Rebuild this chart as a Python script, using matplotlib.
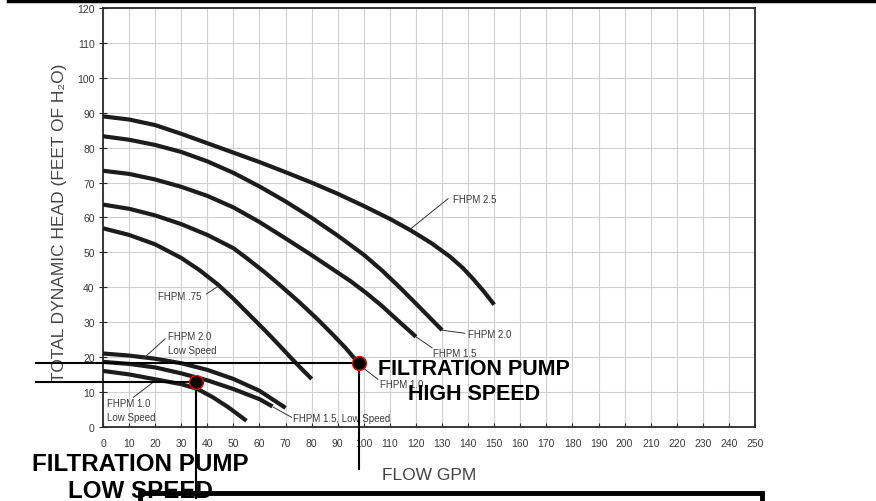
"""
Pump performance curves: total dynamic head vs flow, with the two
filtration-pump operating points marked.
"""

import matplotlib.pyplot as plt
from matplotlib.lines import Line2D
from matplotlib.patches import Rectangle

plt.rcParams["font.family"] = ["Liberation Sans", "DejaVu Sans"]

GREY_TXT = "#3a3a3a"
CURVE = "#1c1c1c"

# Curves (flow GPM, head ft)
HP250_X = [0, 10, 20, 30, 40, 50, 60, 70, 80, 90, 100, 110, 118, 126, 133, 138, 142, 146, 150]
HP250_Y = [89, 88.1, 86.5, 84.0, 81.3, 78.6, 75.9, 73.0, 70.0, 66.8, 63.3, 59.6, 56.3, 52.6, 48.8, 45.5, 42.3, 38.8, 35]

HP200_X = [0, 10, 20, 30, 40, 50, 60, 70, 80, 90, 100, 107, 114, 120, 125, 130]
HP200_Y = [83.3, 82.3, 80.8, 78.8, 76.1, 72.8, 68.9, 64.6, 59.9, 54.8, 49.3, 44.8, 39.8, 35.3, 31.5, 27.7]

HP150_X = [0, 10, 20, 30, 40, 50, 60, 70, 80, 88, 95, 101, 107, 113, 120]
HP150_Y = [73.4, 72.5, 70.9, 68.8, 66.2, 62.9, 58.7, 54.0, 49.2, 45.2, 41.7, 38.3, 34.6, 30.5, 25.8]

HP100_X = [0, 10, 20, 30, 40, 50, 55, 62, 68, 75, 82, 88, 93, 98]
HP100_Y = [63.7, 62.5, 60.6, 58.1, 55.0, 51.2, 48.4, 44.3, 40.5, 35.9, 31.0, 26.5, 22.6, 18.2]

HP075_X = [0, 10, 20, 30, 37, 44, 50, 56, 62, 67, 72, 76, 80]
HP075_Y = [56.9, 55.0, 52.3, 48.4, 44.9, 40.8, 36.7, 32.2, 27.7, 23.8, 19.8, 16.7, 13.7]

LOW200_X = [0, 10, 20, 30, 40, 50, 60, 70]
LOW200_Y = [21, 20.4, 19.5, 18.2, 16.3, 13.7, 10.3, 5.4]

LOW150_X = [0, 10, 20, 30, 40, 50, 60, 65]
LOW150_Y = [18.6, 18, 17, 15.3, 13.3, 10.8, 7.9, 5.8]

LOW100_X = [0, 10, 20, 30, 36, 42, 48, 55]
LOW100_Y = [16, 15, 13.6, 12.2, 10.9, 8.5, 5.6, 1.7]

# Operating points
HIGH_PT = (98.2, 18.2)
LOW_PT = (35.7, 12.7)

X_TICKS = list(range(0, 251, 10))
Y_TICKS = list(range(0, 121, 10))

# (text, text x, text y, leader start, leader end)
LABELS = [
    ("FHPM 2.5", 134.2, 65.4, (117.7, 56.6), (132.3, 65.4)),
    ("FHPM 2.0", 140.0, 26.6, (129.8, 27.7), (138.7, 26.8)),
    ("FHPM 1.5", 126.7, 21.1, (120.0, 25.8), (126.2, 22.6)),
    ("FHPM 1.0", 106.2, 12.3, (99.5, 17.0), (105.4, 13.6)),
    ("FHPM .75", 21.2, 37.4, (44.2, 40.3), (39.7, 38.1)),
    ("FHPM 2.0\nLow Speed", 25.0, 24.1, (15.5, 19.6), (23.8, 25.2)),
    ("FHPM 1.0\nLow Speed", 1.6, 4.8, (20.0, 13.2), (11.6, 8.4)),
    ("FHPM 1.5, Low Speed", 73.0, 2.4, (65.3, 5.6), (72.3, 2.7)),
]


def main():
    fig = plt.figure(figsize=(8.76, 5.02), dpi=100)
    ax = fig.add_axes([0.1176, 0.148, 0.7443, 0.8335])

    ax.set_xlim(0, 250)
    ax.set_ylim(0, 120)
    ax.set_xticks(X_TICKS)
    ax.set_yticks(Y_TICKS)
    ax.grid(True, color="#d0d0d0", lw=0.8, zorder=0)
    ax.set_axisbelow(True)
    for sp in ax.spines.values():
        sp.set_color("#2a2a2a")
        sp.set_linewidth(1.3)
    ax.tick_params(axis="x", direction="in", length=3, pad=8,
                   labelsize=7.5, labelcolor=GREY_TXT, color="#2a2a2a")
    ax.tick_params(axis="y", direction="inout", length=6, pad=3,
                   labelsize=7.5, labelcolor=GREY_TXT, color="#2a2a2a")

    curves = [(HP250_X, HP250_Y), (HP200_X, HP200_Y), (HP150_X, HP150_Y),
              (HP100_X, HP100_Y), (HP075_X, HP075_Y),
              (LOW200_X, LOW200_Y), (LOW150_X, LOW150_Y), (LOW100_X, LOW100_Y)]
    for xs, ys in curves:
        ax.plot(xs, ys, color=CURVE, lw=3, solid_capstyle="butt",
                solid_joinstyle="round", zorder=3)

    # Curve labels with thin leader lines
    for text, tx, ty, p0, p1 in LABELS:
        ax.plot([p0[0], p1[0]], [p0[1], p1[1]], color="#333333", lw=0.7, zorder=3)
        ax.text(tx, ty, text, fontsize=7, color=GREY_TXT, ha="left",
                va="center", linespacing=1.5, zorder=4)

    # Operating point guide lines (run outside the axes)
    for (px, py), bottom in [(HIGH_PT, -12.1), (LOW_PT, -20.5)]:
        ax.plot([-25.7, px], [py, py], color="black", lw=1.5,
                clip_on=False, zorder=5)
        ax.plot([px, px], [py, bottom], color="black", lw=1.5,
                clip_on=False, zorder=5)
        ax.plot(px, py, "o", ms=10, mfc="black", mec="red", mew=1.0,
                clip_on=False, zorder=6)

    ax.set_ylabel("TOTAL DYNAMIC HEAD (FEET OF H\u2082O)", fontsize=12.5,
                  color="#444444")
    ax.yaxis.set_label_coords(-0.055, 0.49)
    ax.set_xlabel("FLOW GPM", fontsize=12.5, color="#444444")
    ax.xaxis.set_label_coords(0.5, -0.097)

    fig.text(474 / 876, 1 - 382 / 502, "FILTRATION PUMP\nHIGH SPEED",
             fontsize=15.5, fontweight="bold", color="black", ha="center",
             va="center", linespacing=1.3, zorder=7)
    fig.text(140 / 876, 1 - 478 / 502, "FILTRATION PUMP\nLOW SPEED",
             fontsize=17.4, fontweight="bold", color="black", ha="center",
             va="center", linespacing=1.25, zorder=7)

    # Frame fragments around the chart
    fig.add_artist(Line2D([8 / 876, 1.0], [1 - 1.5 / 502, 1 - 1.5 / 502],
                          color="black", lw=2.5, transform=fig.transFigure))
    fig.add_artist(Rectangle((140 / 876, -0.05), 622 / 876, 0.05 + 8 / 502,
                             fill=False, ec="black", lw=3.5,
                             transform=fig.transFigure, zorder=10))

    fig.savefig("out.png", dpi=100)
    plt.close(fig)


if __name__ == "__main__":
    main()
